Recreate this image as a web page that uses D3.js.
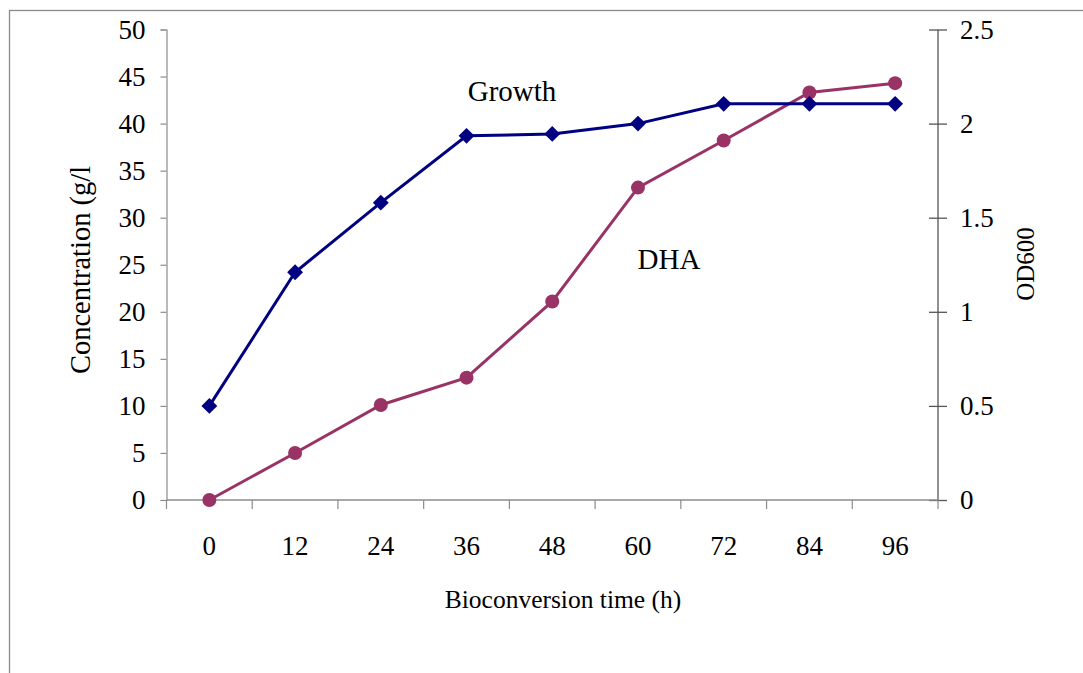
<!DOCTYPE html>
<html>
<head>
<meta charset="utf-8">
<script src="https://cdn.jsdelivr.net/npm/d3@7"></script>
<style>
  html, body { margin: 0; padding: 0; background: #fff; }
  svg { display: block; font-family: "Liberation Serif", "Times New Roman", serif; }
</style>
</head>
<body>
<svg id="chart" width="1083" height="673"></svg>
<script>
// Bioconversion time points (h)
const hours = ["0", "12", "24", "36", "48", "60", "72", "84", "96"];
// DHA concentration (g/l), left axis
const dha = [0, 5.0, 10.1, 13.0, 21.1, 33.2, 38.2, 43.3, 44.3];
// Cell growth OD600, right axis
const growth = [0.5, 1.21, 1.58, 1.935, 1.945, 2.0, 2.105, 2.105, 2.105];
const leftTicks = [0, 5, 10, 15, 20, 25, 30, 35, 40, 45, 50];
const rightTicks = [0, 0.5, 1, 1.5, 2, 2.5];

const svg = d3.select("#chart");
const m = { left: 166.5, right: 938, top: 29.5, bottom: 500 };
const tickFont = 27;

// outer frame
svg.append("rect")
  .attr("x", 9.5).attr("y", 10.5).attr("width", 1100).attr("height", 700)
  .attr("fill", "none").attr("stroke", "#8c8c8c").attr("stroke-width", 1.3);

const x = d3.scaleBand().domain(hours).range([m.left, m.right]).padding(0);
const yL = d3.scaleLinear().domain([0, 50]).range([m.bottom, m.top]);
const yR = d3.scaleLinear().domain([0, 2.5]).range([m.bottom, m.top]);

// left axis
const gL = svg.append("g").attr("transform", `translate(${m.left},0)`)
  .call(d3.axisLeft(yL).tickValues(leftTicks).tickSize(6).tickPadding(15).tickFormat(d3.format("d")));
gL.selectAll("line,path").attr("stroke", "#8c8c8c").attr("stroke-width", 1.2);
gL.selectAll("text").attr("font-size", tickFont).attr("font-family", "Liberation Serif").attr("fill", "#000");

// right axis with crossing ticks
const gR = svg.append("g").attr("transform", `translate(${m.right},0)`)
  .call(d3.axisRight(yR).tickValues(rightTicks).tickSize(9).tickPadding(13)
    .tickFormat(d => String(d)));
gR.select("path").attr("stroke", "#555").attr("stroke-width", 1.3).attr("d", `M0,${m.top}V${m.bottom}`);
gR.selectAll(".tick line").attr("x1", -9).attr("x2", 9).attr("stroke", "#555").attr("stroke-width", 1.3);
gR.selectAll("text").attr("font-size", tickFont).attr("font-family", "Liberation Serif").attr("fill", "#000");

// bottom axis: ticks on category boundaries, labels centred
const gB = svg.append("g").attr("transform", `translate(0,${m.bottom})`);
gB.append("line").attr("x1", m.left).attr("x2", m.right).attr("stroke", "#8c8c8c").attr("stroke-width", 1.3);
const bounds = hours.map(h => x(h)).concat([m.right]);
gB.selectAll("line.tk").data(bounds).enter().append("line").attr("class", "tk")
  .attr("x1", d => d).attr("x2", d => d).attr("y1", 0).attr("y2", 9)
  .attr("stroke", "#8c8c8c").attr("stroke-width", 1.2);
gB.selectAll("text").data(hours).enter().append("text")
  .attr("x", d => x(d) + x.bandwidth() / 2).attr("y", 55)
  .attr("text-anchor", "middle").attr("font-size", tickFont).text(d => d);

const cx = h => x(h) + x.bandwidth() / 2;

// DHA series
const dhaPts = hours.map((h, i) => [cx(h), yL(dha[i])]);
svg.append("path").attr("d", d3.line()(dhaPts))
  .attr("fill", "none").attr("stroke", "#993366").attr("stroke-width", 3);
svg.selectAll("circle.dha").data(dhaPts).enter().append("circle").attr("class", "dha")
  .attr("cx", d => d[0]).attr("cy", d => d[1]).attr("r", 7).attr("fill", "#993366");

// Growth series
const grPts = hours.map((h, i) => [cx(h), yR(growth[i])]);
svg.append("path").attr("d", d3.line()(grPts))
  .attr("fill", "none").attr("stroke", "#000080").attr("stroke-width", 3);
svg.selectAll("path.gr").data(grPts).enter().append("path").attr("class", "gr")
  .attr("d", d3.symbol(d3.symbolDiamond2, 160)())
  .attr("transform", d => `translate(${d[0]},${d[1]})`).attr("fill", "#000080");

// series labels
svg.append("text").attr("x", 512).attr("y", 101).attr("text-anchor", "middle")
  .attr("font-size", 29).text("Growth");
svg.append("text").attr("x", 669).attr("y", 269).attr("text-anchor", "middle")
  .attr("font-size", 29).text("DHA");

// axis titles
svg.append("text").attr("transform", "translate(90,270) rotate(-90)")
  .attr("text-anchor", "middle").attr("font-size", 28.5).text("Concentration (g/l");
svg.append("text").attr("transform", "translate(1034,264) rotate(-90)")
  .attr("text-anchor", "middle").attr("font-size", 25).text("OD600");
svg.append("text").attr("x", 563).attr("y", 608).attr("text-anchor", "middle")
  .attr("font-size", 25.5).text("Bioconversion time (h)");
</script>
</body>
</html>
